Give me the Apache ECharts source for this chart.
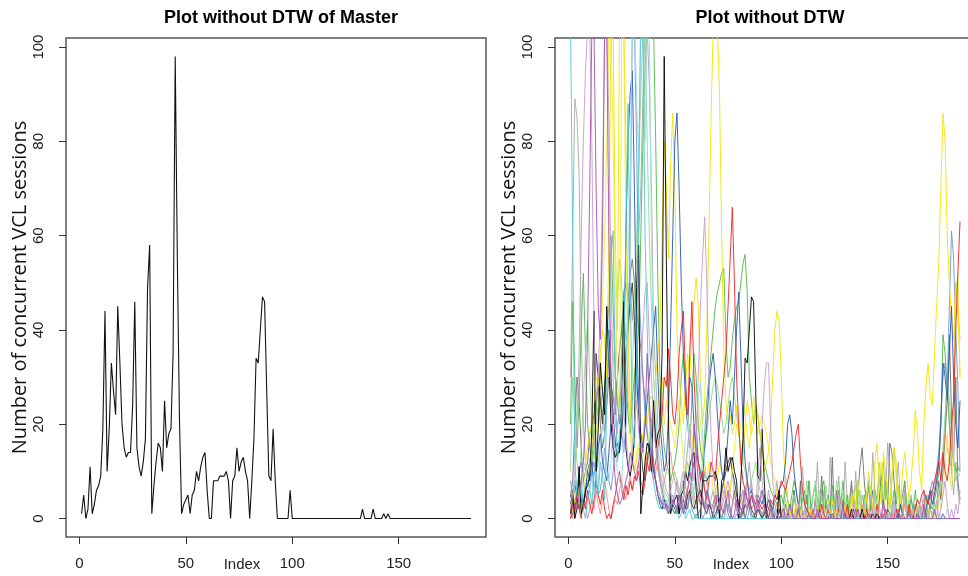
<!DOCTYPE html>
<html>
<head>
<meta charset="utf-8">
<script src="https://cdn.jsdelivr.net/npm/echarts@6/dist/echarts.min.js"></script>
<style>
  html, body { margin: 0; padding: 0; background: #fff; }
  #chart { width: 968px; height: 576px; }
</style>
</head>
<body>
<div id="chart"></div>
<script>
// master series (left panel, also drawn in black on the right)
var master = [
  1,5,0,2,11,1,3,6,7,9, 19,44,10,19,33,27,22,45,33,20,
  15,13,14,14,24,46,15,11,9,12, 17,49,58,1,7,12,16,15,10,25,
  15,18,19,35,98,55,21,1,3,4, 5,1,5,6,10,8,11,13,14,6,
  0,0,8,8,8,9,9,9,10,8, 0,8,9,15,10,12,13,10,8,0,
  8,17,34,33,40,47,46,27,9,8, 19,8,0,0,0,0,0,0,6,0,
  0,0,0,0,0,0,0,0,0,0, 0,0,0,0,0,0,0,0,0,0,
  0,0,0,0,0,0,0,0,0,0, 0,0,2,0,0,0,0,2,0,0,
  0,0,1,0,1,0,0,0,0,0, 0,0,0,0,0,0,0,0,0,0,
  0,0,0,0,0,0,0,0,0,0, 0,0,0,0,0,0,0,0,0,0,
  0,0,0,0
];

// other machines (right panel)
var cyanA = [
  104,60,12,5,3,8,2,0,4,6, 3,10,8,5,12,9,4,25,40,55,
  61,30,12,18,22,35,60,88,50,20, 15,30,70,110,105,60,40,22,12,8,
  5,3,2,4,3,2,1,3,2,1, 2,0,1,3,0,1,2,0,0,1,
  0,0,0,0,0,0,0,0,0,0, 0,0,0,0,0,0,0,0,0,0,
  0,0,0,0,0,0,0,0,0,0, 0,0,0,0,0,0,0,0,0,0,
  0,0,0,0,0,0,0,0,0,0, 0,0,0,0,0,0,0,0,0,0,
  0,0,0,0,0,0,0,0,0,0, 0,0,0,0,0,0,0,0,0,0,
  0,0,0,0,0,0,0,0,0,0, 0,0,0,0,0,0,0,0,0,0,
  0,0,0,0,0,0,0,0,0,0, 0,0,0,0,0,0,0,0,0,0,
  0,0,0,0
];
var cyanB = [
  2,4,8,6,3,5,10,12,8,6, 9,5,11,7,15,20,18,10,8,12,
  20,14,10,8,6,18,30,55,70,105, 106,90,75,104,104,80,105,104,60,30,
  22,15,10,8,5,3,4,2,3,5, 8,6,4,10,18,22,12,8,5,15,
  25,29,18,12,8,5,3,2,1,0, 0,0,0,1,0,0,0,0,0,0,
  0,0,0,0,0,0,0,0,0,0, 0,0,0,0,0,1,2,0,0,0,
  0,0,0,1,0,0,0,0,0,0, 0,0,1,0,0,2,0,0,0,0,
  0,1,0,0,0,0,0,3,0,0, 0,0,0,0,1,0,2,0,0,0,
  0,0,0,2,0,0,0,0,1,0, 0,3,0,0,0,0,0,1,0,0,
  0,0,0,0,0,0,0,0,0,0, 0,0,0,0,1,0,0,2,0,0,
  0,0,0,0
];
var grayA = [
  30,60,89,85,73,40,20,12,8,6, 10,15,20,24,28,22,18,30,35,25,
  20,26,30,35,40,45,38,40,50,42, 48,55,60,70,90,104,104,92,70,40,
  30,20,15,10,8,6,5,4,3,2, 3,5,4,2,3,6,8,5,3,2,
  4,8,10,6,3,2,4,6,3,1, 2,5,8,4,2,6,10,5,3,2,
  4,6,3,8,12,6,3,2,10,15, 8,4,2,6,3,1,4,8,2,0,
  3,9,4,0,2,6,1,0,5,11, 3,0,8,2,0,4,12,1,0,6,
  2,0,13,5,0,3,9,1,0,12, 4,0,7,2,10,1,0,5,3,0,
  8,2,14,6,0,3,9,12,4,16, 10,4,0,6,12,3,0,8,2,0,
  5,1,0,3,0,2,6,0,1,0, 0,2,0,4,8,12,20,30,20,10,
  5,12,6,3
];
var grayB = [
  5,8,20,30,25,15,8,10,12,18, 20,22,25,28,20,15,18,24,30,28,
  26,22,30,36,40,48,50,46,52,55, 50,44,40,36,30,25,18,15,20,24,
  18,12,8,6,4,3,2,5,3,2, 1,3,6,8,4,2,5,9,12,8,
  5,3,6,10,8,4,2,3,5,2, 1,0,2,4,1,0,3,6,2,0,
  1,3,0,2,5,1,0,2,4,1, 0,2,1,0,3,0,1,2,0,0,
  0,3,1,0,0,6,2,0,8,0, 2,5,0,1,0,4,0,2,9,0,
  3,0,1,13,0,6,2,0,4,1, 0,3,8,2,0,5,11,15,8,3,
  0,2,6,1,0,4,9,3,0,2, 16,14,8,2,0,3,1,6,0,2,
  0,1,3,0,2,0,1,0,4,2, 6,3,2,8,4,10,18,25,39,22,
  12,30,8,4
];
var purpleA = [
  2,5,10,20,35,60,80,95,104,104, 80,40,25,30,45,70,104,104,85,50,
  30,20,18,25,30,22,18,12,10,15, 20,25,18,30,40,48,50,38,30,20,
  15,10,8,5,3,4,2,6,3,5, 8,4,2,5,10,15,20,12,8,15,
  30,45,55,64,50,30,18,10,6,4, 2,3,6,4,2,1,3,5,2,1,
  3,6,4,2,5,8,4,2,5,10, 20,28,33,33,20,8,3,1,0,0,
  1,0,2,0,0,1,0,3,0,0, 2,0,0,1,0,4,0,0,2,0,
  0,3,0,1,0,0,5,0,2,0, 1,0,0,4,0,2,0,0,3,0,
  0,5,1,0,0,2,0,3,0,1, 0,0,4,0,2,0,0,6,0,1,
  0,2,0,0,3,0,1,0,0,2, 0,1,4,0,2,5,8,3,0,2,
  0,3,1,6
];
var purpleB = [
  0,1,3,2,5,8,12,20,40,70, 104,104,70,45,38,60,104,104,60,30,
  15,8,5,3,4,6,8,10,14,12, 10,8,12,16,14,20,35,25,18,12,
  8,5,4,3,2,3,1,2,4,3, 2,5,3,1,4,6,10,8,20,14,
  8,5,3,2,6,4,2,1,3,5, 4,2,1,3,6,2,0,1,4,2,
  0,3,6,4,2,5,3,1,2,4, 6,3,1,0,2,1,0,0,0,1,
  2,0,0,3,1,0,0,2,0,0, 0,0,1,0,0,0,2,0,0,0,
  0,0,0,1,0,0,0,0,3,0, 0,0,0,0,0,2,0,0,0,0,
  1,0,0,0,0,0,0,4,0,0, 0,0,0,0,2,0,0,0,0,1,
  0,0,0,0,0,0,3,0,0,0, 0,2,0,0,0,1,0,0,0,0,
  0,0,0,0
];
var yellowA = [
  0,2,4,3,6,8,10,12,15,18, 20,25,30,28,35,40,38,30,60,104,
  104,60,40,104,104,104,80,40,25,15, 10,12,15,14,18,22,20,25,26,24,
  30,35,40,60,80,70,55,75,86,70, 40,30,25,20,28,35,30,40,46,51,
  45,30,20,25,40,60,85,104,104,104, 90,60,35,25,20,22,18,20,24,18,
  15,12,20,25,22,18,20,24,22,18, 15,10,12,14,20,30,40,44,42,30,
  15,8,4,2,0,1,3,0,2,0, 0,1,0,2,0,0,3,1,0,0,
  2,0,0,4,1,0,2,0,0,3, 0,1,5,2,0,8,3,0,1,4,
  10,6,2,12,16,8,3,14,10,5, 2,8,15,12,6,3,10,14,9,4,
  8,14,23,18,10,6,20,28,33,26, 24,35,45,54,70,86,80,60,50,42,
  38,50,45,30
];
var yellowB = [
  5,3,6,8,4,2,5,10,8,12, 15,20,18,22,30,45,60,80,104,104,
  80,50,30,22,104,104,60,30,18,12, 10,14,16,15,14,12,15,18,20,22,
  25,24,28,30,20,25,22,20,18,15, 20,25,18,12,10,15,20,18,14,20,
  25,20,15,10,8,12,10,6,5,8, 12,10,8,6,4,6,10,15,20,18,
  20,24,22,18,15,20,26,22,18,20, 22,20,18,15,12,10,8,5,3,2,
  1,0,2,0,0,0,1,0,0,0, 0,0,2,0,1,0,0,0,3,0,
  0,4,1,0,0,2,0,0,1,0, 0,0,3,6,2,0,1,0,0,5,
  2,0,1,3,0,8,12,6,2,0, 4,10,15,8,3,0,2,5,1,0,
  0,2,0,3,1,0,0,4,2,0, 1,0,3,5,2,6,12,18,10,6,
  15,48,52,30
];
var blueA = [
  5,3,8,4,2,6,3,5,10,8, 12,6,9,15,18,12,10,8,14,20,
  18,15,16,14,20,35,60,80,90,95, 70,40,25,18,15,20,25,30,35,40,
  45,30,20,15,10,12,22,40,60,80, 86,70,50,35,25,20,30,28,20,15,
  12,10,8,15,20,28,32,35,30,22, 15,10,8,12,18,25,20,30,40,48,
  35,20,12,8,5,6,4,3,5,4, 3,5,2,4,3,2,5,4,6,7,
  8,12,20,22,18,10,6,3,0,0, 0,0,1,0,0,0,0,2,0,0,
  0,0,1,0,0,0,0,0,0,1, 0,0,0,2,0,0,0,1,0,0,
  0,0,0,0,1,0,0,0,0,2, 1,0,0,0,0,3,1,0,0,0,
  0,0,0,1,0,0,0,2,4,6, 3,5,8,12,20,33,30,25,35,45,
  30,20,15,25
];
var blueB = [
  8,5,3,6,10,12,8,5,4,7, 10,12,8,5,6,10,15,12,8,6,
  10,15,20,22,18,14,20,35,60,104, 104,80,50,40,30,22,18,15,12,10,
  8,6,5,3,4,3,2,4,5,3, 2,3,4,2,1,3,5,2,1,0,
  1,2,0,1,3,2,0,1,0,2, 1,0,0,2,3,1,0,0,1,0,
  0,1,0,0,2,0,0,1,3,2, 0,1,0,0,0,2,1,0,0,0,
  0,0,0,0,0,1,0,0,0,0, 0,2,0,0,1,0,0,0,0,0,
  0,0,0,3,0,0,1,0,0,0, 2,0,0,0,0,0,0,0,1,0,
  0,0,2,0,0,0,0,1,0,0, 0,0,0,0,2,0,0,0,0,1,
  0,0,3,0,1,0,2,5,3,6, 8,6,10,14,22,30,33,28,45,61,
  55,40,28,10
];
var greenA = [
  20,46,30,15,25,40,52,35,20,15, 12,18,22,30,25,20,28,40,45,60,
  45,30,25,20,35,45,30,22,18,25, 30,35,40,60,80,95,104,104,104,104,
  80,50,30,20,15,12,10,8,10,12, 15,20,30,35,28,20,15,25,35,30,
  20,15,12,18,25,30,35,40,45,48, 50,52,53,38,30,32,38,42,45,46,
  50,54,56,48,30,25,20,24,22,18, 15,12,10,8,6,5,4,3,4,5,
  3,6,4,2,5,8,6,3,2,4, 6,3,8,2,5,7,4,1,6,8,
  3,5,2,7,4,0,6,3,8,2, 5,1,4,6,2,8,3,0,5,2,
  7,3,1,6,4,9,5,2,8,3, 4,1,6,3,7,2,5,8,3,1,
  4,2,6,1,3,0,2,5,1,3, 2,4,6,10,20,39,35,28,20,15,
  12,10,11,10
];
var greenB = [
  10,30,20,12,8,15,25,35,42,30, 20,15,10,12,15,20,25,30,35,40,
  35,30,45,55,50,40,30,25,20,30, 45,60,75,90,104,104,80,60,45,30,
  22,15,10,8,6,5,4,6,8,10, 8,6,5,4,8,12,10,6,4,3,
  5,8,12,15,18,22,25,28,30,28, 25,22,18,20,24,28,30,26,22,18,
  15,12,10,8,6,8,10,12,8,6, 4,3,2,4,3,2,1,2,3,1,
  2,4,1,0,3,5,2,0,4,6, 2,8,3,0,5,8,2,6,4,1,
  7,3,0,5,2,8,4,1,6,3, 2,5,0,4,7,2,6,1,3,5,
  8,4,2,6,3,12,8,4,10,6, 3,8,14,10,5,2,6,3,1,4,
  2,0,3,1,2,0,1,3,0,2, 1,3,2,5,8,15,22,30,25,18,
  12,8,10,9
];
var redA = [
  0,3,1,5,2,0,4,2,6,3, 1,4,8,5,3,6,2,0,1,0,
  3,5,8,10,6,4,7,5,8,6, 9,8,10,6,5,8,12,10,14,10,
  12,15,18,22,30,28,36,30,22,20, 25,35,40,44,30,20,35,46,30,20,
  12,8,10,6,4,8,12,10,8,15, 20,25,30,35,45,55,66,50,30,20,
  12,8,6,4,3,5,3,2,4,3, 2,3,1,2,4,3,5,4,6,8,
  7,6,8,10,12,15,18,20,12,6, 3,2,1,0,2,0,1,0,3,1,
  0,2,0,1,0,0,2,0,1,0, 3,0,1,0,2,0,0,1,0,2,
  0,1,0,0,3,0,1,0,2,0, 0,1,0,2,0,0,1,0,0,3,
  1,0,2,4,3,5,6,4,3,5, 6,8,10,12,8,14,10,8,12,20,
  25,40,52,63
];
var redB = [
  2,0,3,6,4,2,5,3,0,2, 4,2,6,3,1,4,8,5,2,0,
  2,4,3,6,8,5,4,7,9,6, 8,10,12,8,6,10,14,12,10,8,
  10,12,9,6,8,10,12,14,10,8, 6,5,8,10,7,4,6,8,5,3,
  4,6,5,3,2,4,3,2,5,4, 3,2,4,6,8,5,4,3,2,4,
  5,3,6,8,4,2,3,5,4,2, 1,2,3,2,1,0,2,3,2,1,
  0,1,2,0,1,0,3,0,2,0, 1,0,0,2,0,1,0,0,3,0,
  0,1,0,0,2,0,0,4,0,1, 0,0,2,0,1,0,0,3,0,0,
  2,0,1,0,0,3,0,1,0,0, 1,0,0,2,0,0,0,3,1,0,
  0,2,0,1,3,2,4,3,5,4, 6,5,8,10,12,14,18,15,12,11,
  26,50,44,38
];
var darkB = [
  3,6,2,5,8,4,2,6,10,12, 15,20,35,30,25,20,28,35,40,30,
  22,16,13,15,18,25,35,40,46,50, 42,30,22,15,10,8,12,16,14,10,
  8,5,3,2,4,2,1,3,2,1, 2,1,3,4,2,5,6,3,2,4,
  5,6,4,2,1,3,2,0,1,2, 4,6,8,10,12,13,10,8,5,3,
  2,1,3,2,4,2,1,0,2,1, 0,1,2,0,0,1,0,0,2,0,
  0,0,1,0,0,0,0,0,0,0, 0,0,0,0,0,0,0,0,0,0,
  0,0,0,0,0,0,0,0,0,0, 0,0,0,0,0,0,0,0,1,0,
  0,0,0,0,0,0,0,0,0,0, 0,0,0,0,1,0,0,0,0,0,
  0,0,0,0,0,0,0,0,0,0, 0,0,0,0,0,0,0,0,0,0,
  0,0,0,0
];

var xTicks = [0, 50, 100, 150];
var yTicks = [0, 20, 40, 60, 80, 100];

// right panel draw order and colours
var others = [
  { data: grayA,   color: '#a9a9a9' },
  { data: grayB,   color: '#6f6f6f' },
  { data: greenA,  color: '#4cb84a' },
  { data: greenB,  color: '#94d98b' },
  { data: redB,    color: '#f28a8a' },
  { data: blueB,   color: '#7396d3' },
  { data: darkB,   color: '#3a3a3a' },
  { data: yellowB, color: '#f4ea3a' },
  { data: yellowA, color: '#f2e400' },
  { data: blueA,   color: '#2356b4' },
  { data: redA,    color: '#ee2222' },
  { data: cyanB,   color: '#98dfe8' },
  { data: master,  color: '#000000' },
  { data: cyanA,   color: '#4ec8d8' },
  { data: purpleA, color: '#c79ccd' },
  { data: purpleB, color: '#a650b2' }
];

function toPairs(arr) {
  return arr.map(function (v, i) { return [i + 1, v]; });
}

var chart = echarts.init(document.getElementById('chart'), null, { renderer: 'canvas' });

function makeX(gi) {
  return {
    type: 'value', gridIndex: gi, min: -6.32, max: 191.04,
    axisLine: { show: false, onZero: false },
    splitLine: { show: false },
    axisTick: { show: true, inside: false, customValues: xTicks, length: 7, lineStyle: { color: '#333', width: 1 } },
    axisLabel: { customValues: xTicks, fontSize: 15, color: '#222', margin: 19, fontFamily: 'Liberation Sans' },
    name: 'Index', nameLocation: 'middle', nameGap: 20, nameMoveOverlap: false,
    nameTextStyle: { fontSize: 15, color: '#222', fontFamily: 'Liberation Sans', padding: [0, 68, 0, 0] }
  };
}
function makeY(gi) {
  return {
    type: 'value', gridIndex: gi, min: -3.92, max: 101.92,
    axisLine: { show: false, onZero: false },
    splitLine: { show: false },
    axisTick: { show: true, inside: false, customValues: yTicks, length: 7, lineStyle: { color: '#333', width: 1 } },
    axisLabel: { customValues: yTicks, rotate: 90, fontSize: 15, color: '#222', margin: 20, fontFamily: 'Liberation Sans' },
    name: 'Number of concurrent VCL sessions', nameLocation: 'middle', nameGap: 36, nameMoveOverlap: false,
    nameTextStyle: { fontSize: 20, color: '#111', fontFamily: 'Open Sans' }
  };
}

var series = [{
  type: 'line', xAxisIndex: 0, yAxisIndex: 0, data: toPairs(master),
  showSymbol: false, symbol: 'none', clip: true,
  lineStyle: { color: '#111', width: 1.1 }
}];
others.forEach(function (s) {
  series.push({
    type: 'line', xAxisIndex: 1, yAxisIndex: 1, data: toPairs(s.data),
    showSymbol: false, symbol: 'none', clip: true,
    lineStyle: { color: s.color, width: 1, opacity: 0.9 }
  });
});

var option = {
  animation: false,
  backgroundColor: '#fff',
  title: [
    { text: 'Plot without DTW of Master', left: 276, top: 4, textAlign: 'center',
      textStyle: { fontSize: 18, fontWeight: 'bold', color: '#000', fontFamily: 'Liberation Sans' } },
    { text: 'Plot without DTW', left: 765, top: 4, textAlign: 'center',
      textStyle: { fontSize: 18, fontWeight: 'bold', color: '#000', fontFamily: 'Liberation Sans' } }
  ],
  grid: [
    { left: 66, top: 38, width: 420, height: 499, show: true, borderColor: '#555', borderWidth: 1.5,
      backgroundColor: 'transparent', containLabel: false, outerBoundsMode: 'none' },
    { left: 555, top: 38, width: 420, height: 499, show: true, borderColor: '#555', borderWidth: 1.5,
      backgroundColor: 'transparent', containLabel: false, outerBoundsMode: 'none' }
  ],
  xAxis: [makeX(0), makeX(1)],
  yAxis: [makeY(0), makeY(1)],
  series: series
};

option && chart.setOption(option);
</script>
</body>
</html>
